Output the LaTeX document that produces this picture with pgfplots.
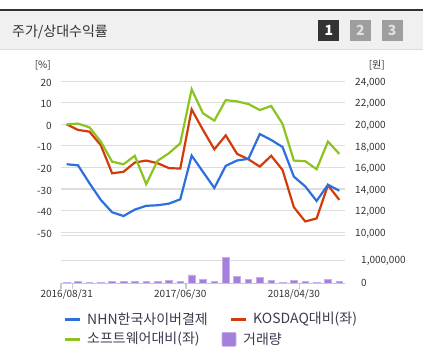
\documentclass[border=0pt]{standalone}
\usepackage{fontspec}
\setmainfont{Noto Sans CJK KR}
\usepackage{pgfplots}
\usepackage{pgfplotstable}
\pgfplotsset{compat=1.18}
\definecolor{cBlue}{HTML}{2D6FDC}
\definecolor{cRed}{HTML}{D23C0A}
\definecolor{cGreen}{HTML}{8CC31E}
\definecolor{cBar}{HTML}{A57FDC}
\definecolor{cBarEdge}{HTML}{C6ADEC}
\definecolor{cGrid}{HTML}{DDDDDD}
\definecolor{cAxis}{HTML}{BCCCDC}
\definecolor{cText}{HTML}{333333}
\definecolor{cLeg}{HTML}{3C3C50}
\definecolor{cHead}{HTML}{F0F0F0}

\pgfplotstableread{
k ksd sw nhn vol
0 0 0 16300 45000
1 -2.6 0.3 16200 90000
2 -3.4 -1.4 14550 45000
3 -9.6 -8.0 13000 45000
4 -22.7 -17.3 11850 90000
5 -22.0 -18.5 11500 90000
6 -17.7 -14.6 12100 90000
7 -16.8 -27.7 12450 90000
8 -18.0 -16.9 12500 90000
9 -20.3 -13.4 12650 130000
10 -20.5 -8.8 13050 90000
11 6.9 16.2 17100 370000
12 -2.6 5.1 15600 190000
13 -11.6 1.7 14100 90000
14 -5.1 11.2 16150 1150000
15 -13.7 10.6 16650 310000
16 -16.2 9.4 16800 190000
17 -19.6 6.6 19100 250000
18 -14.6 8.5 18550 130000
19 -21.1 0.2 17900 45000
20 -38.4 -16.8 15150 130000
21 -45.0 -17.1 14250 90000
22 -43.6 -20.8 12900 45000
23 -28.2 -8.0 14400 190000
24 -35.0 -13.7 13850 90000
}\data

\pgfplotsset{base/.style={scale only axis, width=284pt, xmin=-0.5, xmax=24.5,
  axis line style={draw=none}, scaled y ticks=false, scaled x ticks=false,
  ticklabel style={font=\fontsize{10}{12}\selectfont, text=cText, inner sep=0pt},
  /pgf/number format/assume math mode=true,
  grid style={cGrid, line width=1.2pt}}}

\begin{document}
\begin{tikzpicture}
\useasboundingbox (0,0) rectangle (423pt,351pt);
\fill[white] (0,0) rectangle (423pt,351pt);
% header
\fill[cHead] (0,302pt) rectangle (423pt,340pt);
\fill[cText] (0,340pt) rectangle (423pt,342pt);
\draw[cGrid, line width=0.8pt] (0,302pt) -- (423pt,302pt);
\node[anchor=west, inner sep=0pt, text=cText, font=\fontsize{14}{16}\selectfont] at (12pt,319.5pt) {주가/상대수익률};
\fill[cText] (318.3pt,310.3pt) rectangle (339.3pt,331.3pt);
\fill[black!38] (350pt,310.3pt) rectangle (371pt,331.3pt);
\fill[black!38] (381.7pt,310.3pt) rectangle (402.7pt,331.3pt);
\node[text=white, font=\fontsize{14}{15}\bfseries] at (328.8pt,320.8pt) {1};
\node[text=black!12, font=\fontsize{14}{15}\bfseries] at (360.5pt,320.8pt) {2};
\node[text=black!12, font=\fontsize{14}{15}\bfseries] at (392.2pt,320.8pt) {3};

% main axis (percent)
\begin{axis}[base, at={(61pt,115.3pt)}, anchor=south west, height=163.2pt,
  ymin=-51.6, ymax=24, xtick=\empty, major tick length=0pt,
  ytick={-50,-40,-30,-20,-10,0,10,20},
  yticklabels={-50,-40,-30,-20,-10,0,10,20},
  ymajorgrids, extra y ticks={-51.6}, extra y tick labels={}, extra y tick style={grid=major},
  yticklabel style={anchor=east, xshift=-9pt, yshift=-1.5pt}]
\addplot[cRed, line width=2.2pt] table[x=k,y=ksd]{\data};
\addplot[cGreen, line width=2.2pt] table[x=k,y=sw]{\data};
\end{axis}

% right axis (won)
\begin{axis}[base, at={(61pt,115.3pt)}, anchor=south west, height=163.2pt,
  ymin=9680, ymax=24800, xtick=\empty, major tick length=0pt,
  ytick={10000,12000,14000,16000,18000,20000,22000,24000},
  yticklabels={{10,000},{12,000},{14,000},{16,000},{18,000},{20,000},{22,000},{24,000}},
  ytick pos=right, yticklabel pos=right,
  yticklabel style={anchor=west, xshift=10pt, yshift=-1.5pt}]
\addplot[cBlue, line width=2.2pt] table[x=k,y=nhn]{\data};
\end{axis}

\node[anchor=east, inner sep=0pt, text=cText, font=\fontsize{10}{12}\selectfont] at (51pt,286pt) {[\%]};
\node[anchor=east, inner sep=0pt, text=cText, font=\fontsize{10}{12}\selectfont] at (385pt,286pt) {[원]};

% volume axis
\begin{axis}[base, at={(61pt,67.7pt)}, anchor=south west, height=33.9pt,
  ymin=0, ymax=1500000,
  ytick={0,1000000}, yticklabels={0,{1,000,000}},
  ytick pos=right, yticklabel pos=right,
  yticklabel style={anchor=west, xshift=10pt},
  ymajorgrids, y tick style={draw=none},
  xtick={-0.5,0.5,10.5,20.5}, xticklabels={}, xtick pos=left,
  tick align=outside, major tick length=6pt,
  x tick style={draw=cAxis, line width=1.2pt},
  extra x ticks={0,10,20},
  extra x tick labels={2016/08/31,2017/06/30,2018/04/30},
  extra x tick style={major tick length=0pt, tick style={draw=none}},
  xticklabel style={anchor=north, yshift=-6pt}]
\addplot[ybar, bar width=6.7pt, fill=cBar, draw=cBarEdge, line width=0.6pt] table[x=k,y=vol]{\data};
\draw[cAxis, line width=1.3pt] (rel axis cs:0,0) -- (rel axis cs:1,0);
\end{axis}

% legend
\begin{scope}[every node/.style={anchor=west, inner sep=0pt, text=cLeg, font=\fontsize{14}{16}\selectfont}]
\draw[cBlue, line width=2.5pt] (65pt,31.7pt) -- (80pt,31.7pt);
\node at (87pt,31.7pt) {NHN한국사이버결제};
\draw[cRed, line width=2.5pt] (231pt,31.7pt) -- (246pt,31.7pt);
\node at (253pt,31.7pt) {KOSDAQ대비(좌)};
\draw[cGreen, line width=2.5pt] (65pt,11.7pt) -- (80pt,11.7pt);
\node at (87pt,11.7pt) {소프트웨어대비(좌)};
\fill[cBar, draw=cBarEdge, line width=0.6pt, rounded corners=1pt] (222pt,4.7pt) rectangle (236pt,18.7pt);
\node at (243pt,11.7pt) {거래량};
\end{scope}
\end{tikzpicture}
\end{document}
